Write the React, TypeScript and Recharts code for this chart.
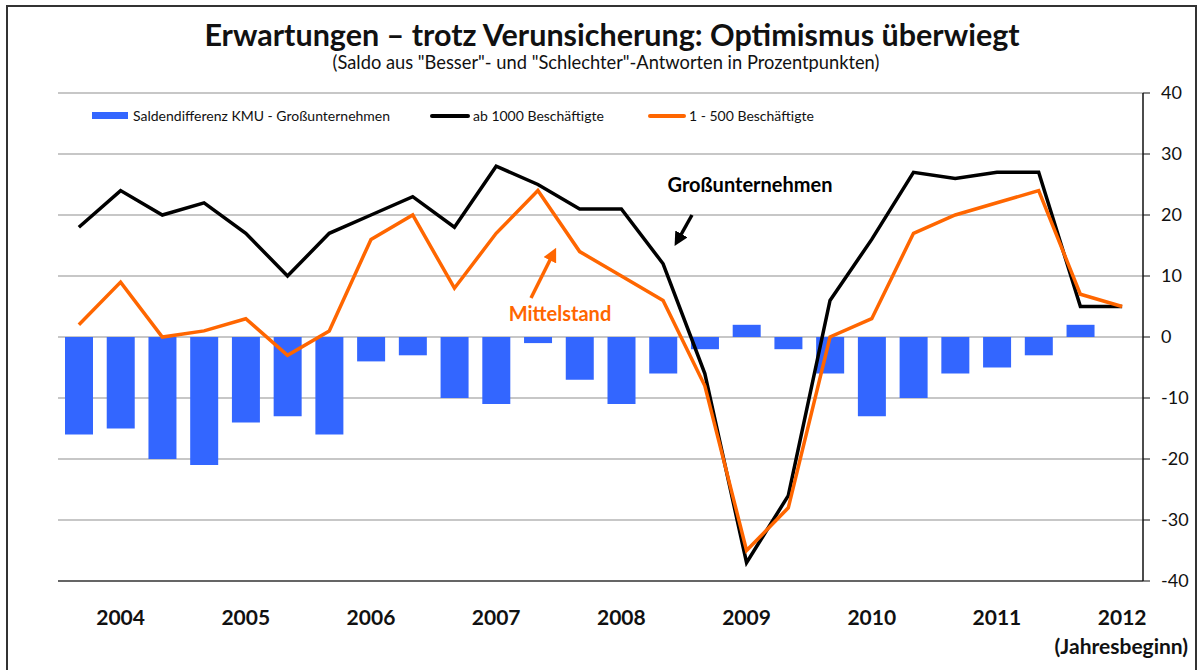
import { ComposedChart, Bar, Line, XAxis, YAxis, CartesianGrid } from "recharts";

// survey waves, three per year (first wave = start of year)
const periods = [
  "2003/3",
  "2004/1", "2004/2", "2004/3",
  "2005/1", "2005/2", "2005/3",
  "2006/1", "2006/2", "2006/3",
  "2007/1", "2007/2", "2007/3",
  "2008/1", "2008/2", "2008/3",
  "2009/1", "2009/2", "2009/3",
  "2010/1", "2010/2", "2010/3",
  "2011/1", "2011/2", "2011/3",
  "2012/1",
];

// ab 1000 Beschäftigte
const bigFirms = [18, 24, 20, 22, 17, 10, 17, 20, 23, 18, 28, 25, 21, 21, 12, -6, -37, -26, 6, 16, 27, 26, 27, 27, 5, 5];
// 1 - 500 Beschäftigte
const smallFirms = [2, 9, 0, 1, 3, -3, 1, 16, 20, 8, 17, 24, 14, 10, 6, -8, -35, -28, 0, 3, 17, 20, 22, 24, 7, 5];
// Saldendifferenz KMU - Großunternehmen
const saldoDiff = [-16, -15, -20, -21, -14, -13, -16, -4, -3, -10, -11, -1, -7, -11, -6, -2, 2, -2, -6, -13, -10, -6, -5, -3, 2, 0];

const yTicks = [-40, -30, -20, -10, 0, 10, 20, 30, 40];

const BLUE = "#3366ff";
const ORANGE = "#ff6600";
const FONT = "Lato, 'DejaVu Sans', sans-serif";

const data = periods.map((p, i) => ({
  period: p,
  diff: saldoDiff[i],
  big: bigFirms[i],
  small: smallFirms[i],
}));

function YearTick(props: any) {
  const { x, y, payload, index } = props;
  const p: string = payload.value;
  if (!p.endsWith("/1")) return <g />;
  const last = index === periods.length - 1;
  return (
    <g>
      <text x={x} y={y + 36} textAnchor="middle" fontSize={21} fontWeight={700} fill="#111" fontFamily={FONT}>
        {p.slice(0, 4)}
      </text>
      {last && (
        <text x={x + 66} y={y + 65} textAnchor="end" fontSize={21} fontWeight={700} fill="#111" fontFamily={FONT}>
          (Jahresbeginn)
        </text>
      )}
    </g>
  );
}

function LegendBar() {
  const item = { display: "flex", alignItems: "center", position: "absolute" as const, top: 107, fontSize: 14, color: "#111" };
  return (
    <>
      <div style={{ ...item, left: 92 }}>
        <span style={{ width: 36, height: 7, background: BLUE, marginRight: 5 }} />
        Saldendifferenz KMU - Großunternehmen
      </div>
      <div style={{ ...item, left: 430 }}>
        <span style={{ width: 40, height: 4, background: "#000", borderRadius: 2, marginRight: 3 }} />
        ab 1000 Beschäftigte
      </div>
      <div style={{ ...item, left: 648 }}>
        <span style={{ width: 38, height: 4, background: ORANGE, borderRadius: 2, marginRight: 3 }} />
        1 - 500 Beschäftigte
      </div>
    </>
  );
}

export default function App() {
  return (
    <div style={{ position: "absolute", left: 0, top: 0, width: 1198, height: 670, background: "#fff", fontFamily: FONT }}>
      <div style={{ position: "absolute", left: 6, top: 5, width: 1187, height: 680, border: "2px solid #333" }} />
      <div style={{ position: "absolute", left: 0, width: 1224, top: 16, textAlign: "center", fontSize: 30.5, fontWeight: 700, color: "#111" }}>
        Erwartungen – trotz Verunsicherung: Optimismus überwiegt
      </div>
      <div style={{ position: "absolute", left: 0, width: 1212, top: 51, textAlign: "center", fontSize: 18.3, color: "#111" }}>
        (Saldo aus "Besser"- und "Schlechter"-Antworten in Prozentpunkten)
      </div>

      <ComposedChart
        width={1198}
        height={670}
        data={data}
        margin={{ top: 93, right: 0, bottom: 0, left: 58 }}
        style={{ position: "absolute", left: 0, top: 0 }}
      >
        <CartesianGrid horizontal vertical={false} stroke="#8f8f8f" strokeWidth={1.2} yAxisId="r" />
        <XAxis
          dataKey="period"
          interval={0}
          tickLine={false}
          axisLine={{ stroke: "#444", strokeWidth: 1.5 }}
          height={89}
          tick={<YearTick />}
        />
        <YAxis
          yAxisId="l"
          orientation="left"
          width={0}
          domain={[-40, 40]}
          ticks={yTicks}
          tick={false}
          tickLine={false}
          axisLine={{ stroke: "#444", strokeWidth: 1.5 }}
        />
        <YAxis
          yAxisId="r"
          orientation="right"
          width={55}
          domain={[-40, 40]}
          ticks={yTicks}
          tickSize={7}
          tickMargin={11}
          tickLine={{ stroke: "#111" }}
          axisLine={{ stroke: "#111", strokeWidth: 1.5 }}
          tick={{ fontSize: 18, fill: "#111", fontFamily: FONT }}
        />
        <Bar yAxisId="r" dataKey="diff" fill={BLUE} barSize={28} isAnimationActive={false} />
        <Line yAxisId="r" dataKey="big" stroke="#000" strokeWidth={3.5} dot={false} type="linear" isAnimationActive={false} />
        <Line yAxisId="r" dataKey="small" stroke={ORANGE} strokeWidth={3.5} dot={false} type="linear" isAnimationActive={false} />
      </ComposedChart>

      <LegendBar />

      <svg width={1198} height={670} style={{ position: "absolute", left: 0, top: 0, pointerEvents: "none" }}>
        <defs>
          <marker id="ahBlack" viewBox="0 0 10 10" refX="5" refY="5" markerWidth="4" markerHeight="4" orient="auto">
            <path d="M0,0 L10,5 L0,10 z" fill="#000" />
          </marker>
          <marker id="ahOrange" viewBox="0 0 10 10" refX="5" refY="5" markerWidth="4" markerHeight="4" orient="auto">
            <path d="M0,0 L10,5 L0,10 z" fill={ORANGE} />
          </marker>
        </defs>
        <text x={750} y={192} textAnchor="middle" fontSize={20} fontWeight={700} fill="#000" fontFamily={FONT}>
          Großunternehmen
        </text>
        <line x1={692} y1={215} x2={678} y2={240} stroke="#000" strokeWidth={3.5} markerEnd="url(#ahBlack)" />
        <text x={560} y={321} textAnchor="middle" fontSize={20} fontWeight={700} fill={ORANGE} fontFamily={FONT}>
          Mittelstand
        </text>
        <line x1={531} y1={298} x2={553} y2={254} stroke={ORANGE} strokeWidth={3.5} markerEnd="url(#ahOrange)" />
      </svg>
    </div>
  );
}
